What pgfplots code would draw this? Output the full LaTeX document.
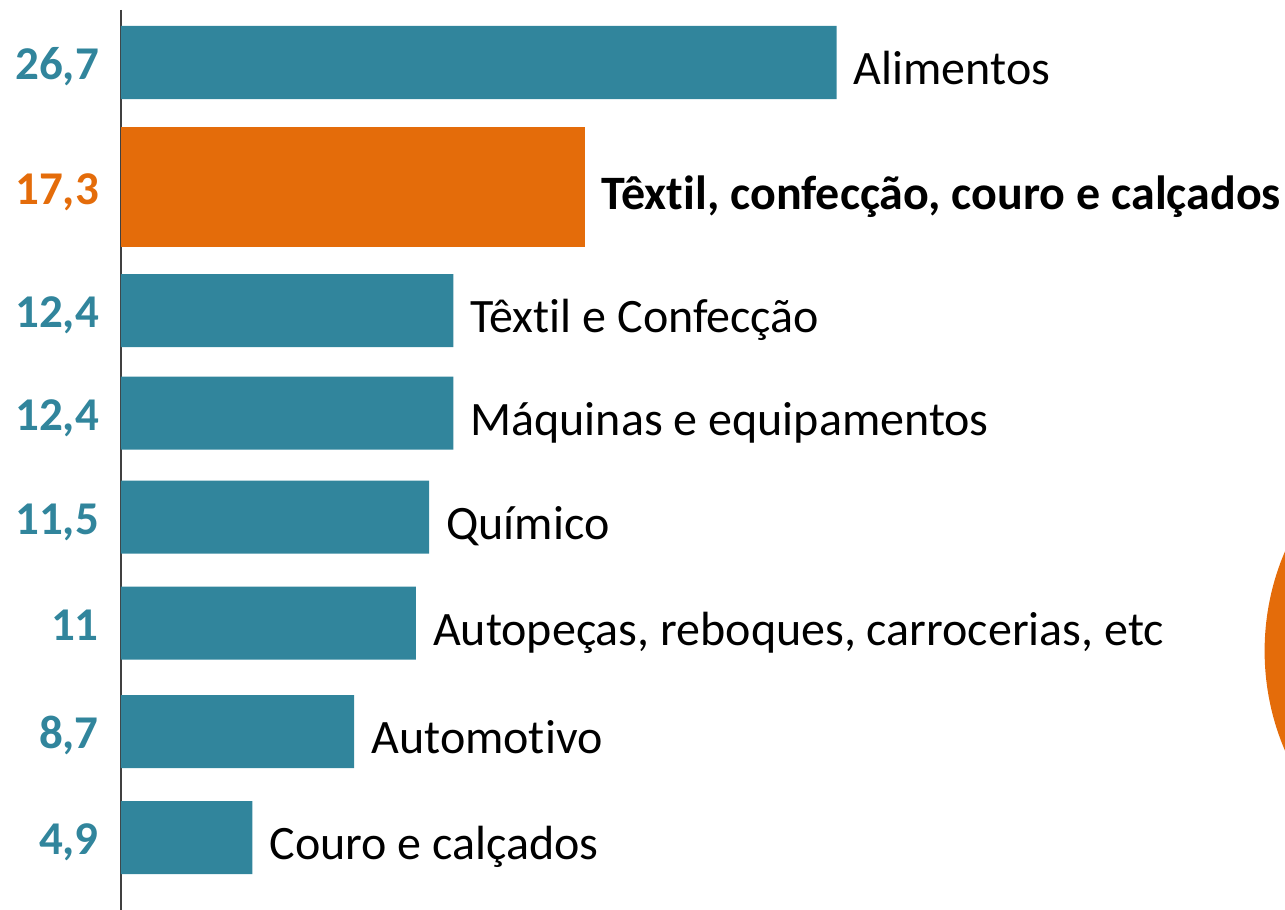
\documentclass[border=0pt]{standalone}
\usepackage{pgfplots}
\pgfplotsset{compat=1.18}
\usepackage{pgfplotstable}
\usepackage{fontspec}
\setmainfont{Carlito}[Ligatures={NoCommon}]
\definecolor{tealbar}{HTML}{31859C}
\definecolor{orangebar}{HTML}{E46C0A}
\definecolor{axisgray}{HTML}{404040}
\newcommand{\bigfont}{\fontsize{48}{57}\selectfont}
\newcommand{\tickfont}{\fontsize{47}{56}\selectfont}
\pgfplotstableread[col sep=semicolon]{
v;p;name
26.7;62.5;Alimentos
12.4;310.5;Têxtil e Confecção
12.4;413;Máquinas e equipamentos
11.5;517;Químico
11;623;Autopeças, reboques, carrocerias, etc
8.7;731.5;Automotivo
4.9;837.5;Couro e calçados
}\tealdata
\pgfplotstableread[col sep=semicolon]{
v;p;name
17.3;187;Têxtil, confecção, couro e calçados
}\orngdata
\begin{document}
\begin{tikzpicture}
\useasboundingbox (0,0) rectangle (1285pt,910pt);
\fill[orangebar] (1517.6pt,259pt) circle (253pt);
\begin{axis}[
  at={(121pt,0pt)}, anchor=south west,
  scale only axis, width=1164pt, height=900pt,
  xmin=0, xmax=43.43,
  y dir=reverse, ymin=10, ymax=910,
  axis x line=none, axis y line*=left,
  y axis line style={draw=axisgray, line width=1.5pt},
  major tick length=0pt,
  xtick=\empty,
  ytick={62.5,187,310.5,413,517,623,731.5,837.5},
  yticklabels={\textcolor{tealbar}{26,7},\textcolor{orangebar}{17,3},\textcolor{tealbar}{12,4},\textcolor{tealbar}{12,4},\textcolor{tealbar}{11,5},\textcolor{tealbar}{11},\textcolor{tealbar}{8,7},\textcolor{tealbar}{4,9}},
  yticklabel style={font=\bfseries\tickfont, anchor=base east, inner sep=0pt, xshift=-22pt, yshift=-17pt},
  xbar, bar shift=0pt,
  point meta=explicit symbolic,
  nodes near coords={\pgfplotspointmeta},
  every node near coord/.append style={font=\bigfont, anchor=base west, inner sep=0pt, xshift=17pt, yshift=-22pt, text=black},
]
\addplot[xbar, bar shift=0pt, bar width=73, fill=tealbar, draw=none] table[x=v, y=p, meta=name] {\tealdata};
\addplot[xbar, bar shift=0pt, bar width=120, fill=orangebar, draw=none,
  every node near coord/.append style={font=\bfseries\bigfont}] table[x=v, y=p, meta=name] {\orngdata};
\end{axis}
\end{tikzpicture}
\end{document}
